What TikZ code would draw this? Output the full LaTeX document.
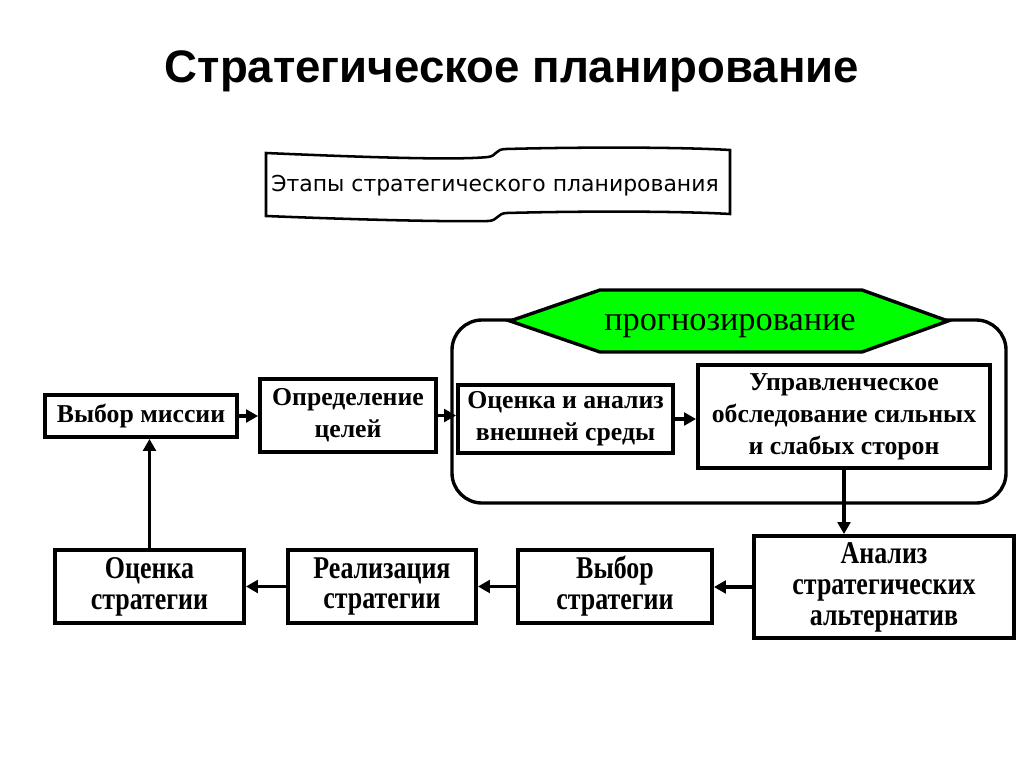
\documentclass[tikz,border=0pt]{standalone}
\usepackage{fontspec}
\setmainfont{Liberation Serif}
\newfontfamily\headfont{Liberation Sans}
\newfontfamily\bannerfont{DejaVu Sans}
\newfontfamily\narrowfont[FakeStretch=0.82]{Liberation Serif}
\usepackage{tikz}
\usetikzlibrary{positioning}
\usetikzlibrary{calc}
\usetikzlibrary{arrows.meta}

\begin{document}
\begin{tikzpicture}[x=0.025cm, y=-0.025cm,
  box/.style={draw, line width=2.7pt, align=center, inner sep=0pt,
    font=\fontsize{18.3}{22.7}\selectfont\bfseries},
  lowbox/.style={box, font=\fontsize{22.5}{22}\selectfont\narrowfont\bfseries},
  arr/.style={line width=2.2pt, -{Triangle[length=8.5pt,width=9pt]}}]
\useasboundingbox (0,0) rectangle (1024,768);
\node (title) at (512,71) {\headfont\bfseries\fontsize{32.4}{38}\selectfont Стратегическое планирование};
% wavy banner
\draw[line width=1.8pt, fill=white] (266,153) .. controls (380,158) and (460,160) .. (488,157)
  .. controls (497,156) and (495,149) .. (506,149) .. controls (580,147) and (680,147) .. (730,150)
  -- (730,214) .. controls (680,211) and (580,211) .. (507,213)
  .. controls (497,213) and (498,221) .. (488,221) .. controls (440,222) and (340,219) .. (266,216) -- cycle;
\node (stages) at (495,186) {\bannerfont\fontsize{15.6}{18}\selectfont Этапы стратегического планирования};
% container and forecast
\draw[line width=2.4pt, rounded corners=0.75cm] (452,320) rectangle (1006,503);
\draw[line width=2.4pt, fill={rgb,255:red,0;green,255;blue,0}] (510,321) -- (600,290) -- (862,290)
  -- (948,321) -- (862,352) -- (600,352) -- cycle;
\node (forecast) at (730,326) {\fontsize{24.4}{28}\selectfont прогнозирование};
% upper row
\node[box, minimum width=4.8cm, minimum height=1.05cm] (mission) at (141,416) {Выбор миссии};
\node[box, minimum width=4.4cm, minimum height=1.825cm] (goals) at (348,415.5) {Определение\\целей};
\node[box, minimum width=5.375cm, minimum height=1.7cm] (env) at (565.5,419) {Оценка и анализ\\внешней среды};
\node[box, minimum width=7.3cm, minimum height=2.575cm] (swot) at (844,416.5) {Управленческое\\обследование сильных\\и слабых сторон};
% lower row
\node[lowbox, minimum width=6.5cm, minimum height=2.55cm] (alt) at (884,587) {Анализ\\стратегических\\альтернатив};
\node[lowbox, minimum width=4.85cm, minimum height=1.825cm] (choice) at (615,586.5) {Выбор\\стратегии};
\node[lowbox, minimum width=4.7cm, minimum height=1.825cm] (impl) at (382,586.5) {Реализация\\стратегии};
\node[lowbox, minimum width=4.725cm, minimum height=1.825cm] (eval) at (149.5,586.5) {Оценка\\стратегии};
% arrows
\draw[arr] (mission.east) -- (mission.east -| goals.west);
\draw[arr] (goals.east) -- (goals.east -| env.west);
\draw[arr] (env.east) -- (env.east -| swot.west);
\draw[arr] (swot.south) -- (swot.south |- alt.north);
\draw[arr] (alt.west) -- (alt.west -| choice.east);
\draw[arr] (choice.west) -- (choice.west -| impl.east);
\draw[arr] (impl.west) -- (impl.west -| eval.east);
\draw[arr] (eval.north) -- (eval.north |- mission.south);
\end{tikzpicture}
\end{document}
